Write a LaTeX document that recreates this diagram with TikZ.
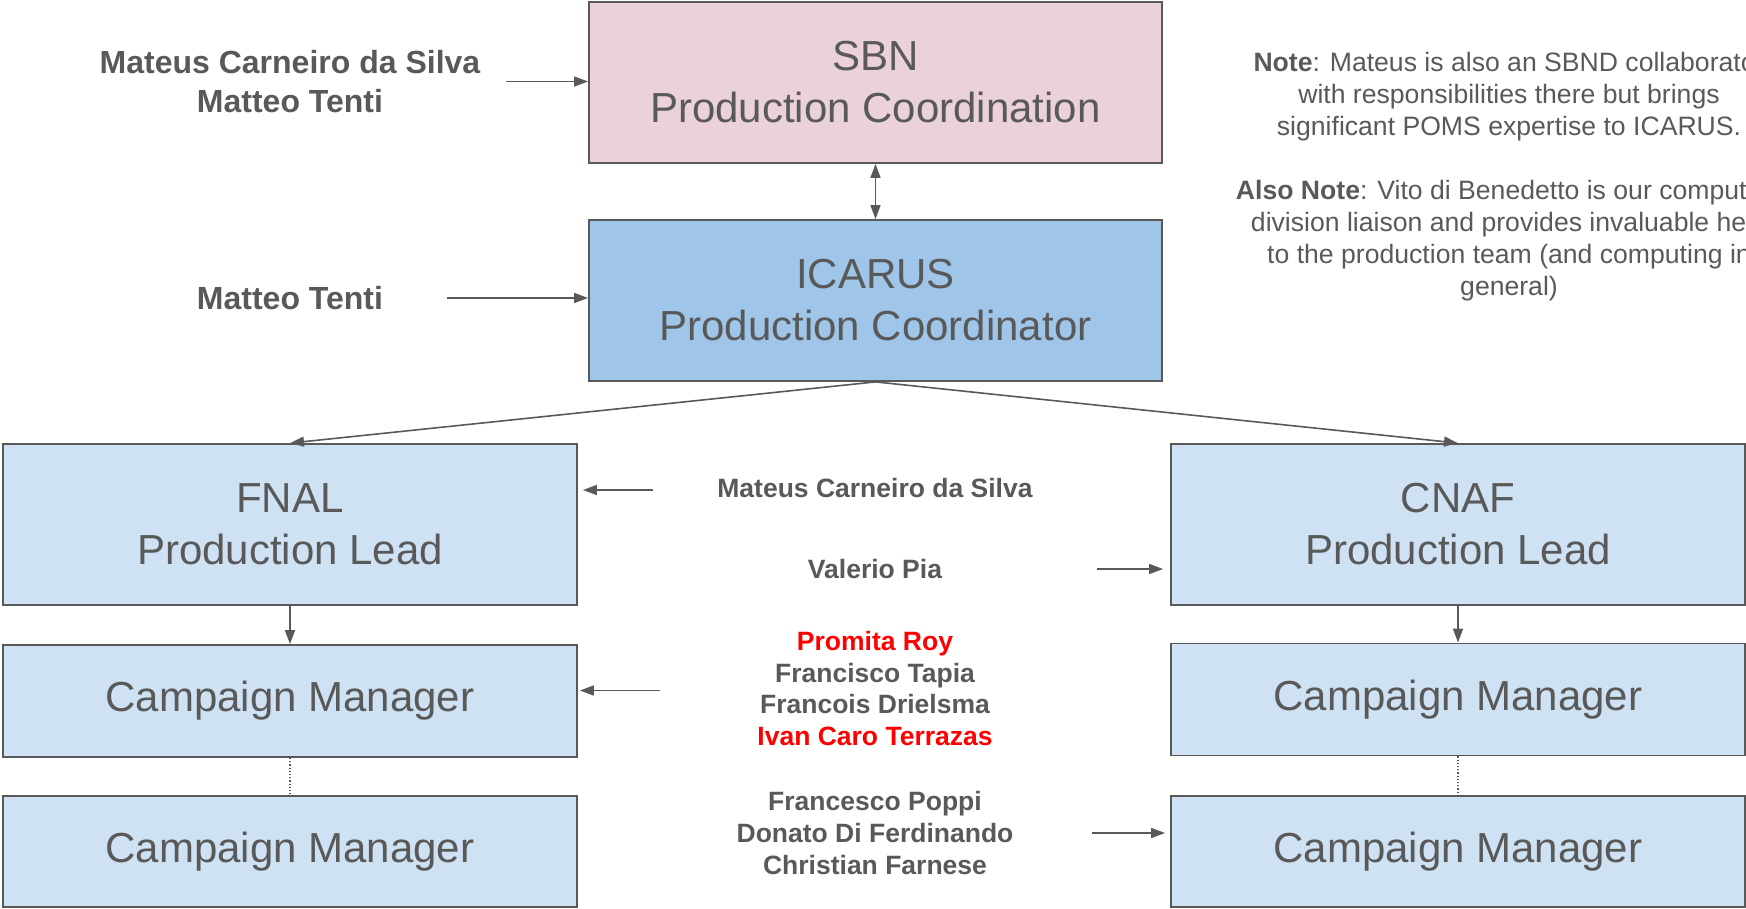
\documentclass[tikz,border=0pt]{standalone}
\usepackage{fontspec}
\setmainfont{Liberation Sans}
\usetikzlibrary{arrows.meta}

\definecolor{txtgray}{HTML}{595959}
\definecolor{sbnpink}{HTML}{EAD1DC}
\definecolor{icblue}{HTML}{9FC5E8}
\definecolor{ltblue}{HTML}{CFE2F3}
\definecolor{namered}{HTML}{FF0000}

\tikzset{
  box/.style={draw=txtgray, line width=1.8pt, fill=#1, minimum width=573pt,
    minimum height=161pt, inner sep=0pt, align=center, text=txtgray,
    font=\fontsize{42}{52}\selectfont},
  bignames/.style={align=center, inner sep=0pt, text=txtgray,
    font=\fontsize{32}{39}\selectfont\bfseries},
  names/.style={align=center, inner sep=0pt, text=txtgray,
    font=\fontsize{26.5}{31.7}\selectfont\bfseries},
  link/.style={draw=txtgray, line width=1.6pt,
    -{Triangle[length=14pt,width=10pt]}},
}

\begin{document}
\begin{tikzpicture}[x=1pt,y=-1pt]
  \useasboundingbox (0,0) rectangle (1746,909);

  % coordination boxes
  \node[box=sbnpink] (sbn) at (875.5,82.5) {SBN\\Production Coordination};
  \node[box=icblue] (icarus) at (875.5,300.5) {ICARUS\\Production Coordinator};

  % site boxes
  \node[box=ltblue, minimum width=574pt] (fnal) at (290,524.5) {FNAL\\Production Lead};
  \node[box=ltblue, minimum width=574pt] (cnaf) at (1458,524.5) {CNAF\\Production Lead};
  \node[box=ltblue, minimum width=574pt, minimum height=112pt] (fnalcm) at (290,701) {Campaign Manager};
  \node[box=ltblue, minimum width=574pt, minimum height=112pt] (cnafcm) at (1458,699.5) {Campaign Manager};
  \node[box=ltblue, minimum width=574pt, minimum height=111pt] (fnalcmb) at (290,851.5) {Campaign Manager};
  \node[box=ltblue, minimum width=574pt, minimum height=111pt] (cnafcmb) at (1458,851.5) {Campaign Manager};

  % people
  \node[bignames] (sbnlead) at (290,81.5) {Mateus Carneiro da Silva\\Matteo Tenti};
  \node[bignames] (icalead) at (290,298) {Matteo Tenti};
  \node[names] (fnallead) at (875,488) {Mateus Carneiro da Silva};
  \node[names] (cnaflead) at (875,569) {Valerio Pia};
  \node[names] (fnalcms) at (875,688.5)
    {\textcolor{namered}{Promita Roy}\\Francisco Tapia\\Francois Drielsma\\\textcolor{namered}{Ivan Caro Terrazas}};
  \node[names] (cnafcms) at (875,833)
    {Francesco Poppi\\Donato Di Ferdinando\\Christian Farnese};

  % note
  \node[align=center, inner sep=0pt, text=txtgray, font=\fontsize{26.6}{32}\selectfont] (note) at (1509,177)
    {\textbf{Note}: Mateus is also an SBND collaborator\\
     with responsibilities there but brings\\
     significant POMS expertise to ICARUS.\\[32pt]
     \textbf{Also Note}: Vito di Benedetto is our computing\\
     division liaison and provides invaluable help\\
     to the production team (and computing in\\
     general)};

  % hierarchy
  \draw[link, {Triangle[length=14pt,width=10pt]}-{Triangle[length=14pt,width=10pt]}] (sbn) -- (icarus);
  \draw[link] (icarus.south) -- (fnal.north);
  \draw[link] (icarus.south) -- (cnaf.north);
  \draw[link] (fnal) -- (fnalcm);
  \draw[link] (cnaf) -- (cnafcm);
  \draw[txtgray, line width=1.2pt, dotted] (fnalcm) -- (fnalcmb);
  \draw[txtgray, line width=1.2pt, dotted] (cnafcm) -- (cnafcmb);

  % assignments
  \draw[link] ([xshift=26pt]sbnlead.east) -- (sbnlead.east -| sbn.west);
  \draw[link] ([xshift=64pt]icalead.east) -- (icalead.east -| icarus.west);
  \draw[link, shorten >=5pt] ([xshift=-64pt,yshift=-2pt]fnallead.west) -- ([yshift=-2pt]fnallead.west -| fnal.east);
  \draw[link, shorten >=7pt] ([xshift=155pt]cnaflead.east) -- (cnaflead.east -| cnaf.west);
  \draw[link, shorten >=2pt] ([xshift=-97pt,yshift=-2pt]fnalcms.west) -- ([yshift=-2pt]fnalcms.west -| fnalcm.east);
  \draw[link, shorten >=5pt] ([xshift=78pt]cnafcms.east) -- (cnafcms.east -| cnafcmb.west);
\end{tikzpicture}
\end{document}
